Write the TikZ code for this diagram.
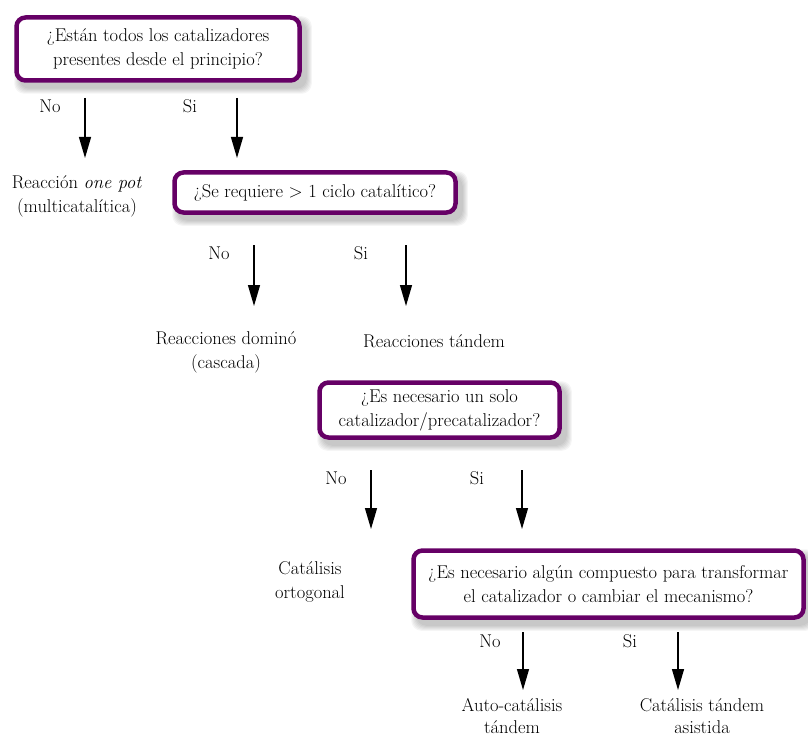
\documentclass[tikz,border=0pt]{standalone}
\usepackage{fontspec}
\usetikzlibrary{arrows.meta,calc}
\definecolor{qpurple}{RGB}{102,0,102}
\pgfdeclarelayer{background}
\pgfsetlayers{background,main}
\begin{document}
\begin{tikzpicture}[x=1pt,y=-1pt,
  txt/.style={font=\fontsize{18.5}{24}\selectfont, align=center, inner sep=0pt},
  qbox/.style={txt, draw=qpurple, line width=4.5pt, rounded corners=9pt, fill=white},
  flow/.style={-{Triangle[length=21pt,width=12pt]}, line width=1.3pt},
  lbl/.style={font=\fontsize{18.5}{20}\selectfont, inner sep=0pt},
]
\useasboundingbox (0,0) rectangle (808,738);

% question boxes
\node[qbox, minimum width=283pt, minimum height=63pt] (b1) at (158,49)
  {¿Están todos los catalizadores\\presentes desde el principio?};
\node[qbox, minimum width=281pt, minimum height=40pt] (b2) at (315,192.5)
  {¿Se requiere > 1 ciclo catalítico?};
\node[qbox, minimum width=240pt, minimum height=55pt] (b3) at (439.5,410)
  {¿Es necesario un solo\\catalizador/precatalizador?};
\node[qbox, minimum width=390pt, minimum height=67pt] (b4) at (608.5,584)
  {¿Es necesario algún compuesto para transformar\\el catalizador o cambiar el mecanismo?};

% soft drop shadows behind the boxes
\begin{pgfonlayer}{background}
\foreach \n in {b1,b2,b3,b4}{
  \foreach \s in {0,1,...,5}{
    \fill[black, opacity=0.04, rounded corners=10pt]
      ($(\n.south west)+(5-\s,6+\s)$) rectangle ($(\n.north east)+(5+\s,6-\s)$);
  }
}
\end{pgfonlayer}

% outcomes
\node[txt] (r1) at (77,196) {Reacción \textit{one pot}\\(multicatalítica)};
\node[txt] (r2) at (226,352) {Reacciones dominó\\(cascada)};
\node[txt] (r3) at (434,341) {Reacciones tándem};
\node[txt] (r4) at (310,582) {Catálisis\\ortogonal};
\node[txt, font=\fontsize{18.5}{22}\selectfont] (r5) at (512,716) {Auto-catálisis\\tándem};
\node[txt, font=\fontsize{18.5}{22}\selectfont] (r6) at (702,716) {Catálisis tándem\\asistida};

% branch labels
\node[lbl] (n1) at (50,106) {No};
\node[lbl] (s1) at (190,106) {Si};
\node[lbl] (n2) at (219,253) {No};
\node[lbl] (s2) at (361,253) {Si};
\node[lbl] (n3) at (336,478) {No};
\node[lbl] (s3) at (477,478) {Si};
\node[lbl] (n4) at (490,641) {No};
\node[lbl] (s4) at (630,641) {Si};

% arrow end points
\coordinate (a1s) at (85,98);   \coordinate (a1e) at (85,158);
\coordinate (a2s) at (237,98);  \coordinate (a2e) at (237,158);
\coordinate (a3s) at (254,245); \coordinate (a3e) at (254,306);
\coordinate (a4s) at (406,245); \coordinate (a4e) at (406,306);
\coordinate (a5s) at (371,470); \coordinate (a5e) at (371,529);
\coordinate (a6s) at (522,470); \coordinate (a6e) at (522,529);
\coordinate (a7s) at (523,632); \coordinate (a7e) at (523,690);
\coordinate (a8s) at (678,632); \coordinate (a8e) at (678,690);

\foreach \a in {1,...,8}{ \draw[flow] (a\a s) -- (a\a e); }
\end{tikzpicture}
\end{document}
